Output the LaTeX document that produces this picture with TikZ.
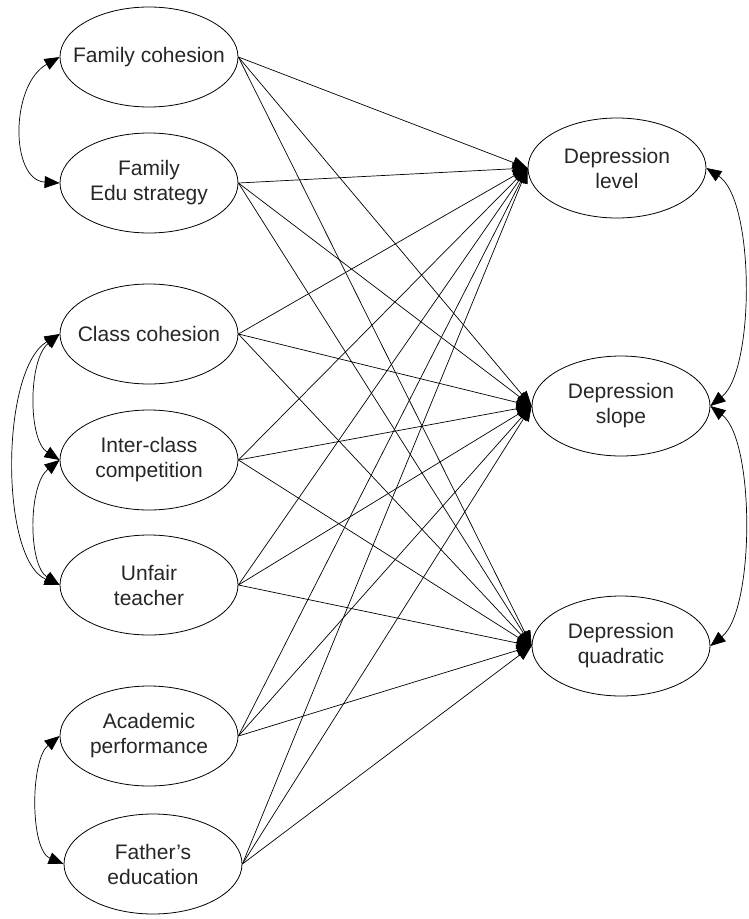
\documentclass[tikz,border=0pt]{standalone}
\usepackage{fontspec}
\setmainfont{Liberation Sans}
\usetikzlibrary{shapes.geometric,arrows.meta}
\tikzset{
  var/.style={ellipse, draw, line width=0.8pt, minimum width=178pt, minimum height=100pt, inner sep=0pt,
    label={[align=center, font=\fontsize{21}{25}\selectfont, text=black!85]center:#1}},
  path/.style={line width=0.7pt, -{Triangle[length=15pt,width=12pt]}},
  cov/.style={line width=0.7pt, {Triangle[length=15pt,width=12pt]}-{Triangle[length=15pt,width=12pt]}}
}
\begin{document}
\begin{tikzpicture}[x=1pt,y=-1pt]
\useasboundingbox (0,0) rectangle (748,919);
% left variables
\node[var={Family cohesion}] (fc) at (149,57) {};
\node[var={Family\\Edu strategy}] (fe) at (149,183) {};
\node[var={Class cohesion}] (cc) at (149,334) {};
\node[var={Inter-class\\competition}] (ic) at (149,460) {};
\node[var={Unfair\\teacher}] (ut) at (149,585) {};
\node[var={Academic\\performance}] (ap) at (149,736) {};
\node[var={Father's\\education}] (fa) at (153,864) {};
% right variables
\node[var={Depression\\level}] (dl) at (617,168) {};
\node[var={Depression\\slope}] (ds) at (621,406) {};
\node[var={Depression\\quadratic}] (dq) at (621,646) {};
% paths
\foreach \s in {fc,fe,cc,ic,ut,ap,fa}{
  \foreach \t in {dl,ds,dq}{
    \draw[path] (\s.east) -- (\t.west);
  }
}
% covariances (left)
\draw[cov] (fc.west) .. controls (10,85) and (10,180) .. (fe.west);
\draw[cov] (cc.west) .. controls (28,360) and (28,440) .. (ic.west);
\draw[cov] (ic.west) .. controls (28,485) and (28,565) .. (ut.west);
\draw[cov] (cc.west) .. controls (0,370) and (0,560) .. (ut.west);
\draw[cov] (ap.west) .. controls (30,760) and (30,850) .. (fa.west);
% covariances (right)
\draw[cov] (dl.east) .. controls (755,200) and (755,370) .. (ds.east);
\draw[cov] (ds.east) .. controls (755,440) and (755,610) .. (dq.east);
\end{tikzpicture}
\end{document}
